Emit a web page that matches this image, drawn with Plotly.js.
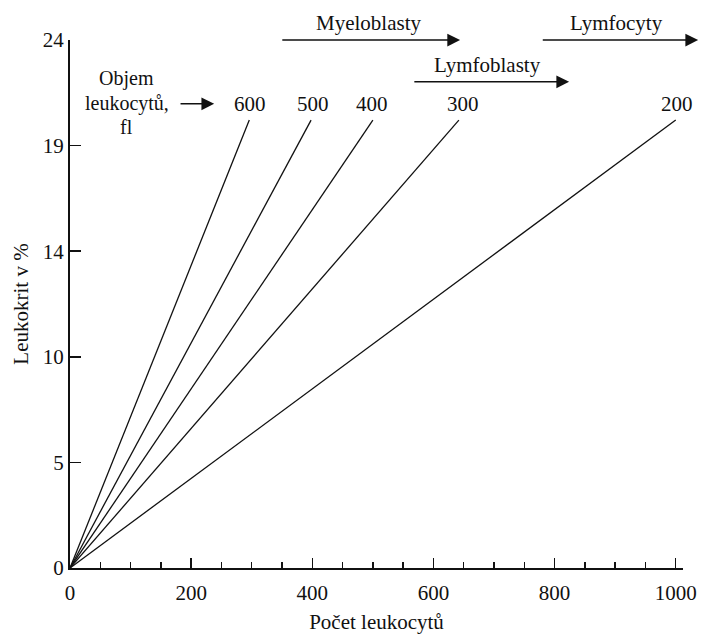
<!DOCTYPE html>
<html>
<head>
<meta charset="utf-8">
<script src="https://cdn.plot.ly/plotly-3.0.1.min.js"></script>
<style>html,body{margin:0;padding:0;background:#fff;}</style>
</head>
<body>
<div id="chart" style="width:701px;height:635px;"></div>
<script>
// Cell volumes (fl) and end points of each line
const volumes = ['600', '500', '400', '300', '200'];
const endCount = [296, 398, 500, 642, 1000];
const endLeukocrit = [20.36, 20.36, 20.36, 20.36, 20.36];
const labelCount = [297, 401, 499, 649, 1002];
const labelY = 21.1;

// Y ticks (evenly spaced, labels rounded)
const yTickVals = [0, 4.8, 9.6, 14.4, 19.2, 24];
const yTickText = ['0', '5', '10', '14', '19', '24'];
const xTickVals = [0, 200, 400, 600, 800, 1000];

// Cell-type ranges (arrows)
const cellTypes = ['Myeloblasty', 'Lymfoblasty', 'Lymfocyty'];
const rangeStart = [348, 566, 778];
const rangeEnd = [644, 824, 1037];
const rangeY = [24, 22.1, 24];
const rangeLabelX = [492, 690, 903];

const FONT = "'Liberation Serif', 'Times New Roman', 'DejaVu Serif', serif";
const INK = '#111';

const traces = volumes.map((v, i) => ({
  type: 'scatter', mode: 'lines',
  x: [0, endCount[i]], y: [0, endLeukocrit[i]],
  line: {color: INK, width: 1.3},
  hoverinfo: 'skip', showlegend: false
}));

const annotations = [];
volumes.forEach((v, i) => {
  annotations.push({x: labelCount[i], y: labelY, xref: 'x', yref: 'y', text: v,
    showarrow: false, font: {family: FONT, size: 21, color: INK}});
});
cellTypes.forEach((c, i) => {
  annotations.push({x: rangeEnd[i], y: rangeY[i], ax: rangeStart[i], ay: rangeY[i],
    xref: 'x', yref: 'y', axref: 'x', ayref: 'y', text: '', showarrow: true,
    arrowhead: 2, arrowsize: 1.7, arrowwidth: 1.5, arrowcolor: INK});
  annotations.push({x: rangeLabelX[i], y: rangeY[i], xref: 'x', yref: 'y', text: c,
    showarrow: false, yshift: 17, font: {family: FONT, size: 21, color: INK}});
});
// "Objem leukocytů, fl"
const objemLines = ['Objem', 'leukocytů,', 'fl'];
const objemY = [22.23, 21.1, 20.05];
objemLines.forEach((t, i) => {
  annotations.push({x: 94, y: objemY[i], xref: 'x', yref: 'y', text: t,
    showarrow: false, font: {family: FONT, size: 20, color: INK}});
});
annotations.push({x: 238, y: 21.1, ax: 180, ay: 21.1, xref: 'x', yref: 'y',
  axref: 'x', ayref: 'y', text: '', showarrow: true,
  arrowhead: 2, arrowsize: 1.7, arrowwidth: 1.5, arrowcolor: INK});

const layout = {
  width: 701, height: 635,
  margin: {l: 70, r: 18, t: 40, b: 67},
  paper_bgcolor: '#fff', plot_bgcolor: '#fff',
  font: {family: FONT, size: 21, color: INK},
  showlegend: false,
  xaxis: {
    range: [0, 1012], showgrid: false, zeroline: false,
    showline: true, linecolor: INK, linewidth: 2,
    tickmode: 'array', tickvals: xTickVals,
    ticks: 'inside', ticklen: 10, tickwidth: 1.5, tickcolor: INK,
    minor: {dtick: 50, tick0: 0, ticks: 'inside', ticklen: 6, tickwidth: 1.5, tickcolor: INK, showgrid: false},
    ticklabelstandoff: 5,
    tickfont: {family: FONT, size: 21, color: INK},
    title: {text: 'Počet leukocytů', font: {family: FONT, size: 21, color: INK}, standoff: 10}
  },
  yaxis: {
    range: [0, 24], showgrid: false, zeroline: false,
    showline: true, linecolor: INK, linewidth: 2,
    tickmode: 'array', tickvals: yTickVals, ticktext: yTickText,
    ticks: 'inside', ticklen: 11, tickwidth: 1.5, tickcolor: INK,
    ticklabelstandoff: 0,
    tickfont: {family: FONT, size: 21, color: INK},
    title: {text: 'Leukokrit v %', font: {family: FONT, size: 21, color: INK}, standoff: 8}
  },
  annotations: annotations
};

Plotly.newPlot('chart', traces, layout, {displayModeBar: false, staticPlot: true});
</script>
</body>
</html>
